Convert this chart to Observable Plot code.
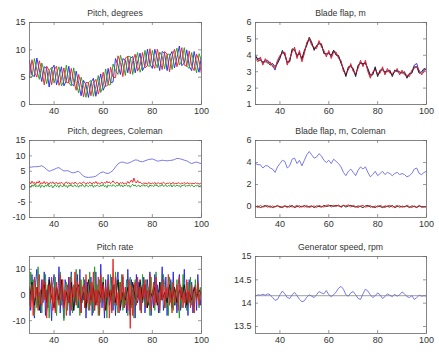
<!DOCTYPE html>
<html><head><meta charset="utf-8">
<script src="https://cdn.jsdelivr.net/npm/d3@7"></script>
<script src="https://cdn.jsdelivr.net/npm/@observablehq/plot@0.6"></script>
<style>
body{margin:0;background:#fff;}
#fig{position:relative;width:439px;height:354px;overflow:hidden;background:#fff;font-family:"Liberation Sans",Arial,sans-serif;}
.panel{position:absolute;}
.ttl{position:absolute;font-size:8.7px;line-height:10px;color:#333;white-space:nowrap;transform:translateX(-50%);}
</style></head><body><div id="fig"></div>
<script>
// ---- x range and tick labels ----
const xRange = [30, 100];
const xTicks = [40, 60, 80, 100];

// ---- Pitch, degrees (three blades, t = 30..100 step 1) ----
const pitchBlue = [8.0,5.4,5.1,8.5,6.3,4.2,6.9,6.6,3.2,6.4,
  7.2,3.6,5.2,6.9,3.4,4.4,7.0,3.8,3.4,6.1,
  3.8,1.6,4.4,3.6,1.3,4.0,4.8,1.5,3.6,5.6,
  2.6,3.7,6.6,4.0,4.1,8.4,7.2,5.5,8.4,8.1,
  5.8,8.4,8.8,5.8,7.8,9.4,6.2,7.1,10.1,7.4,
  6.6,10.1,8.4,6.2,9.7,9.3,6.2,8.8,9.7,6.7,
  8.6,10.7,7.1,7.6,10.0,7.0,6.2,9.7,7.5,5.9,
  8.9];
const pitchRed = [5.0,8.2,6.0,5.0,8.0,6.3,3.6,7.0,6.2,3.6,
  6.3,7.0,3.5,4.7,6.7,4.0,4.0,6.6,4.3,2.6,
  5.5,3.7,1.4,4.0,4.0,1.6,3.9,4.6,1.9,3.5,
  5.9,3.3,3.6,6.8,5.0,4.9,8.9,7.7,5.1,8.5,
  8.8,5.6,7.9,9.2,6.1,7.2,9.5,6.7,7.1,10.2,
  7.5,6.6,10.1,8.3,6.4,9.7,9.2,6.0,8.8,10.1,
  6.9,8.5,10.4,7.2,7.0,9.8,7.1,6.2,9.2,8.0,
  5.6];
const pitchGreen = [5.0,5.0,8.4,6.3,4.6,7.6,6.0,3.8,6.2,6.8,
  3.9,5.7,6.9,3.4,4.3,7.2,4.0,3.4,6.7,3.9,
  2.1,5.0,3.5,1.3,4.0,4.4,1.5,3.3,5.3,2.2,
  3.5,6.5,3.6,3.6,7.4,6.2,5.5,9.0,7.5,5.3,
  8.8,8.8,5.5,7.9,9.5,5.9,7.1,9.9,7.1,7.0,
  9.9,7.9,6.7,9.6,8.8,6.5,9.2,9.2,6.4,8.8,
  10.3,7.2,8.0,10.4,7.0,6.6,9.5,7.5,5.8,9.3,
  8.0];

// ---- Blade flap, m (three blades, step 1) ----
const flapBlue = [3.9,3.8,3.8,3.5,3.7,3.7,3.5,3.4,3.1,3.6,
  3.9,4.2,4.1,3.5,3.7,4.3,4.4,3.9,4.2,3.7,
  4.2,4.7,5.0,4.7,4.4,4.5,4.8,4.6,4.2,4.0,
  4.2,3.9,4.3,4.1,3.9,3.6,3.1,2.8,3.2,3.4,
  3.1,2.8,3.3,3.6,3.4,3.6,3.1,2.7,2.9,3.2,
  2.8,3.0,3.2,2.9,3.1,3.0,2.8,3.0,3.1,2.9,
  3.0,2.9,2.7,2.8,3.0,3.4,3.5,3.0,2.9,3.1,
  3.2];
const flapBlack = [4.0,3.7,3.7,3.6,3.6,3.6,3.4,3.5,3.3,3.5,
  3.8,4.3,4.0,3.6,3.6,4.4,4.3,4.0,4.1,3.8,
  4.3,4.6,5.1,4.8,4.3,4.6,4.7,4.7,4.1,4.1,
  4.1,4.0,4.3,4.0,4.0,3.5,3.2,2.7,3.3,3.3,
  3.2,2.7,3.4,3.5,3.5,3.5,3.2,2.8,2.8,3.3,
  2.7,3.1,3.1,3.0,3.0,3.1,2.7,3.1,3.0,3.0,
  2.9,3.0,2.6,2.9,2.9,3.3,3.3,2.9,3.0,3.2,
  3.1];
const flapRed = [3.8,3.6,3.9,3.4,3.8,3.5,3.6,3.3,3.2,3.7,
  4.0,4.1,4.2,3.4,3.8,4.2,4.5,3.8,4.3,3.6,
  4.1,4.8,5.0,4.6,4.5,4.4,4.9,4.5,4.3,3.9,
  4.3,3.8,4.2,4.2,3.8,3.7,3.0,2.9,3.1,3.5,
  3.0,2.9,3.2,3.7,3.3,3.7,3.0,2.6,3.0,3.1,
  2.9,2.9,3.3,2.8,3.2,2.9,2.9,3.0,3.2,2.8,
  3.1,2.8,2.8,2.7,3.1,3.2,3.3,3.1,2.8,3.0,
  3.2];

// ---- Pitch, degrees, Coleman ----
const pitchCollective = [6.3,6.4,6.5,6.5,6.6,6.8,6.3,5.6,5.0,5.3,
  5.6,6.0,6.2,5.6,5.1,5.2,5.1,4.6,4.5,4.8,
  5.0,4.2,3.4,3.1,3.0,3.1,3.2,3.4,4.0,4.6,
  4.8,4.4,4.3,4.7,5.3,6.4,7.4,7.9,8.0,7.7,
  7.6,7.9,8.3,8.7,8.6,8.2,8.1,8.4,8.7,8.9,
  9.0,8.7,8.3,8.4,8.6,8.5,8.4,8.5,8.6,8.8,
  9.2,9.1,8.9,8.6,8.4,7.9,7.5,7.8,8.0,7.7,
  7.5];
// step 0.5
const pitchTilt = [1.5,0.9,1.8,1.1,1.4,0.7,1.6,1.2,1.9,0.8,
  1.3,1.0,1.7,0.9,1.4,1.2,0.8,1.5,1.1,1.6,
  0.9,1.2,1.4,0.8,1.3,1.0,1.5,1.1,0.7,1.2,
  1.6,1.0,1.4,0.8,1.1,1.3,0.9,1.5,1.2,0.8,
  1.0,1.4,0.9,1.2,1.6,1.1,0.8,1.3,1.0,1.5,
  1.2,0.9,1.4,1.1,1.7,1.0,1.3,0.8,1.2,1.5,
  1.0,1.4,1.1,1.8,1.2,1.6,1.0,1.4,1.9,1.3,
  1.0,1.5,1.2,0.9,1.3,1.1,1.4,0.8,1.2,1.0,
  1.7,1.1,1.5,2.2,1.4,2.8,1.6,1.2,2.0,1.3,
  1.5,1.1,0.9,1.3,1.0,1.2,0.8,1.4,1.1,0.9,
  1.2,1.0,1.4,0.8,1.1,1.3,0.9,1.2,1.0,1.5,
  1.1,0.8,1.2,1.0,1.3,0.9,1.1,1.4,0.8,1.2,
  1.0,1.3,1.1,0.9,1.2,1.0,1.4,0.9,1.1,1.3,
  0.8,1.2,1.0,1.1,0.9,1.3,1.0,1.2,0.8,1.1,
  1.0];
const pitchYaw = [0.3,-0.2,0.6,0.1,0.8,-0.1,0.4,0.0,0.7,-0.3,
  0.5,0.2,-0.2,0.6,0.1,0.9,-0.1,0.3,0.5,-0.4,
  0.2,0.7,0.0,0.4,-0.2,0.6,0.3,-0.1,0.8,0.1,
  0.4,-0.3,0.5,0.2,0.7,-0.1,0.3,0.6,0.0,0.4,
  -0.2,0.5,0.1,0.8,0.2,-0.1,0.6,0.3,0.0,0.5,
  0.2,0.7,-0.2,0.4,0.1,0.6,0.3,-0.1,0.5,0.2,
  0.8,0.0,0.4,-0.3,0.6,0.2,0.5,0.1,0.7,0.3,
  0.0,0.5,0.2,0.9,0.1,0.6,-0.1,0.4,0.3,0.7,
  0.1,0.5,-0.2,0.4,0.8,0.2,0.6,0.0,0.3,0.5,
  -0.1,0.4,0.2,0.7,0.1,0.5,0.3,-0.2,0.6,0.2,
  0.4,0.0,0.7,0.3,0.5,-0.1,0.4,0.2,0.8,0.1,
  0.3,0.6,0.0,0.4,0.2,0.7,-0.1,0.5,0.3,0.1,
  0.6,0.2,0.4,-0.2,0.5,0.3,0.7,0.0,0.4,0.2,
  0.5,0.1,0.6,0.3,-0.1,0.4,0.2,0.6,0.0,0.3,
  0.4];

// ---- Blade flap, m, Coleman ----
const flapCollective = flapBlue;
const flapTilt = [0.05,-0.1,0.1,-0.05,0.0,0.1,-0.1,0.05,-0.05,0.1,
  -0.1,0.0,0.05,-0.1,0.1,-0.05,0.0,0.1,-0.1,0.05,
  -0.05,0.1,-0.1,0.0,0.05,-0.1,0.1,0.0,-0.05,0.1,
  0.15,-0.05,0.1,0.0,0.15,-0.1,0.1,0.05,0.15,-0.05,
  0.1,0.0,-0.1,0.05,0.1,-0.05,0.0,0.1,-0.1,0.05,
  -0.05,0.1,0.0,-0.1,0.05,0.1,-0.05,0.0,0.1,-0.1,
  0.05,-0.05,0.1,0.0,-0.1,0.05,-0.05,0.1,-0.1,0.0,
  -0.05];
const flapYaw = [-0.05,0.05,-0.1,0.0,0.1,-0.05,0.05,-0.1,0.0,0.05,
  0.0,-0.1,0.05,0.0,-0.05,0.1,-0.1,0.0,0.05,-0.05,
  0.1,-0.05,0.0,0.05,-0.1,0.05,0.0,-0.05,0.1,0.0,
  0.05,0.1,0.0,0.1,0.05,0.0,0.1,-0.05,0.05,0.1,
  0.0,-0.05,0.05,0.0,-0.1,0.05,0.1,-0.05,0.0,-0.1,
  0.05,0.0,-0.1,0.05,0.0,-0.05,0.1,-0.1,0.0,0.05,
  -0.05,0.0,0.05,-0.1,0.05,0.0,-0.1,0.05,0.0,-0.05,
  0.0];

// ---- Pitch rate (step 0.5) ----
const rateBlue = [3,-6,8,-2,-9,5,10,-4,1,-7,
  6,-3,9,-8,2,-5,7,0,-10,4,
  8,-6,3,-2,11,-7,5,-3,-9,6,
  2,-4,7,-8,9,-1,-6,4,-3,8,
  -5,10,-7,3,-2,6,-9,5,1,-4,
  7,-8,4,-6,9,-3,2,-7,12,-5,
  3,-9,6,-2,8,-4,-1,7,-6,4,
  -8,5,9,-3,-6,2,7,-5,3,-7,
  10,-2,-8,6,-4,4,-9,8,-1,5,
  -6,3,-3,7,-7,1,6,-4,9,-8,
  2,-5,8,-3,4,-7,5,-2,11,-6,
  -3,7,-8,3,-1,6,-5,9,-4,2,
  -7,4,8,-6,3,-2,10,-5,1,-8,
  6,-3,5,-7,2,4,-6,8,-1,-4,
  3];
const rateGreen = [-4,9,-2,6,-8,3,-5,11,-3,2,
  -7,5,-1,8,-6,4,-9,3,6,-2,
  -5,7,-8,2,-3,9,-4,6,-10,3,
  5,-6,1,-4,8,-7,4,-2,10,-5,
  2,-8,6,-3,7,-5,3,-1,-6,9,
  -4,5,-7,11,-2,4,-8,6,-3,1,
  7,-5,2,-9,4,-1,8,-6,3,-4,
  9,-2,-7,5,-3,8,-6,1,-4,6,
  -8,3,7,-5,2,-9,6,-3,4,-1,
  5,-7,8,-2,-4,6,-5,3,-8,7,
  -1,4,-6,9,-3,2,-7,5,-2,8,
  4,-5,1,-8,7,-3,5,-6,2,-4,
  6,-2,-9,4,-5,8,-3,2,-6,5,
  -3,7,-4,1,-7,6,-2,4,-5,3,
  -2];
const rateRed = [2,-5,4,-8,7,-1,3,-6,8,-3,
  -4,6,-2,5,-9,1,4,-3,7,-6,
  3,-7,5,-1,-4,8,-2,6,-5,2,
  -8,4,-3,7,-6,3,-1,9,-4,5,
  -2,6,-7,2,4,-5,8,-3,1,-6,
  5,-3,9,-6,2,-4,7,-8,8,-2,
  4,-6,3,-1,6,-9,2,-7,14,-3,
  7,-4,1,-7,5,-2,8,-5,3,-1,
  -6,6,-13,4,-8,2,5,-4,7,-2,
  3,-7,4,-1,6,-5,2,-3,8,-6,
  -2,5,-4,7,-3,1,-6,4,-2,6,
  -5,3,-1,8,-4,2,-7,5,-3,1,
  4,-6,7,-2,3,-5,1,-4,6,-3,
  2,-5,4,-1,-7,3,-2,5,-4,1,
  0];
// step 1
const rateBlack = [-2,5,-4,3,-6,2,4,-3,6,-1,
  -5,3,-2,6,-4,1,-3,5,-6,2,
  4,-3,1,-5,6,-2,3,-4,2,-1,
  5,-6,3,-2,4,-3,6,-5,1,-2,
  3,-4,5,-1,-3,6,-2,4,-5,2,
  -1,3,-4,5,-2,1,-3,4,-2,3,
  -3,2,-1,4,-4,1,-2,3,-1,2,
  0];

// ---- Generator speed, rpm (step 1) ----
const genSpeed = [14.15,14.18,14.17,14.19,14.17,14.20,14.18,14.12,14.06,14.08,
  14.18,14.26,14.20,14.12,14.10,14.18,14.23,14.16,14.08,14.03,
  14.05,14.13,14.18,14.15,14.12,14.18,14.25,14.22,14.20,14.27,
  14.18,14.14,14.18,14.24,14.32,14.36,14.30,14.18,14.15,14.22,
  14.25,14.18,14.10,14.08,14.20,14.30,14.26,14.18,14.12,14.16,
  14.22,14.18,14.10,14.14,14.20,14.17,14.14,14.19,14.15,14.18,
  14.24,14.20,14.14,14.12,14.16,14.08,14.12,14.17,14.15,14.16,
  14.15];
const genRated = [14.16];

// ---- colours ----
const C = {b: "#2020ee", g: "#1f9a1f", r: "#e81c1c", k: "#111111"};

function toSeries(values) {
  const n = values.length;
  return values.map((v, i) => ({x: xRange[0] + i * (xRange[1] - xRange[0]) / (n - 1), y: v}));
}

const fig = document.getElementById("fig");

function panel(cfg) {
  const {left, frameTop, ml, frameW, frameH, yDomain, yTicks, title, lines, rules = []} = cfg;
  const mt = 6, mb = 16, mr = 8;
  const tk = 3;
  const marks = [];
  for (const L of lines) {
    marks.push(Plot.line(toSeries(L.values), {x: "x", y: "y", stroke: L.color, strokeWidth: L.w || 0.9, clip: true}));
  }
  for (const R of rules) {
    marks.push(Plot.ruleY(R.values, {stroke: R.color, strokeWidth: 0.7}));
  }
  marks.push(
    Plot.tickX(xTicks, {x: d => d, stroke: "#555", strokeWidth: 0.6, insetTop: frameH - tk}),
    Plot.tickX(xTicks, {x: d => d, stroke: "#555", strokeWidth: 0.6, insetBottom: frameH - tk}),
    Plot.tickY(yTicks, {y: d => d, stroke: "#555", strokeWidth: 0.6, insetRight: frameW - tk}),
    Plot.tickY(yTicks, {y: d => d, stroke: "#555", strokeWidth: 0.6, insetLeft: frameW - tk}),
    Plot.axisX({ticks: xTicks, tickSize: 0, tickPadding: 3, label: null, fill: "#333", tickFormat: d => String(d)}),
    Plot.axisY({ticks: yTicks, tickSize: 0, tickPadding: 4, label: null, fill: "#333", tickFormat: d => String(d)}),
    Plot.frame({stroke: "#666", strokeWidth: 0.8})
  );
  const svg = Plot.plot({
    width: ml + frameW + mr, height: mt + frameH + mb,
    marginLeft: ml, marginRight: mr, marginTop: mt, marginBottom: mb,
    style: {fontFamily: "'Liberation Sans', Arial, sans-serif", fontSize: "9px", color: "#333", background: "transparent", overflow: "visible"},
    x: {domain: xRange},
    y: {domain: yDomain},
    marks
  });
  svg.classList.add("panel");
  svg.style.left = left + "px";
  svg.style.top = (frameTop - mt) + "px";
  fig.appendChild(svg);
  const t = document.createElement("div");
  t.className = "ttl";
  t.textContent = title;
  t.style.left = (left + ml + frameW / 2) + "px";
  t.style.top = (frameTop - 14) + "px";
  fig.appendChild(t);
}

const L = {left: 0, ml: 29, frameW: 172};
const R = {left: 220, ml: 35, frameW: 171};

panel({...L, frameTop: 22, frameH: 82, yDomain: [0, 15], yTicks: [0, 5, 10, 15], title: "Pitch, degrees",
  lines: [{values: pitchBlue, color: C.b}, {values: pitchGreen, color: C.g}, {values: pitchRed, color: C.r}]});
panel({...R, frameTop: 22, frameH: 82, yDomain: [1, 6], yTicks: [1, 2, 3, 4, 5, 6], title: "Blade flap, m",
  lines: [{values: flapBlue, color: C.b}, {values: flapBlack, color: C.k}, {values: flapRed, color: C.r}]});
panel({...L, frameTop: 140, frameH: 77, yDomain: [-10, 15], yTicks: [-10, -5, 0, 5, 10, 15], title: "Pitch, degrees, Coleman",
  lines: [{values: pitchCollective, color: "#6b6be6"}, {values: pitchYaw, color: C.g}, {values: pitchTilt, color: C.r}]});
panel({...R, frameTop: 140, frameH: 77, yDomain: [-1, 6], yTicks: [0, 2, 4, 6], title: "Blade flap, m, Coleman",
  lines: [{values: flapCollective, color: "#6b6be6"}, {values: flapYaw, color: C.k}, {values: flapTilt, color: C.r}]});
panel({...L, frameTop: 256, frameH: 77, yDomain: [-15, 15], yTicks: [-10, 0, 10], title: "Pitch rate",
  lines: [{values: rateBlue, color: C.b}, {values: rateGreen, color: C.g}, {values: rateBlack, color: C.k}, {values: rateRed, color: C.r}]});
panel({...R, frameTop: 256, frameH: 77, yDomain: [13.35, 15], yTicks: [13.5, 14, 14.5, 15], title: "Generator speed, rpm",
  lines: [{values: genSpeed, color: "#6b6be6"}], rules: [{values: genRated, color: "#777"}]});
</script></body></html>
